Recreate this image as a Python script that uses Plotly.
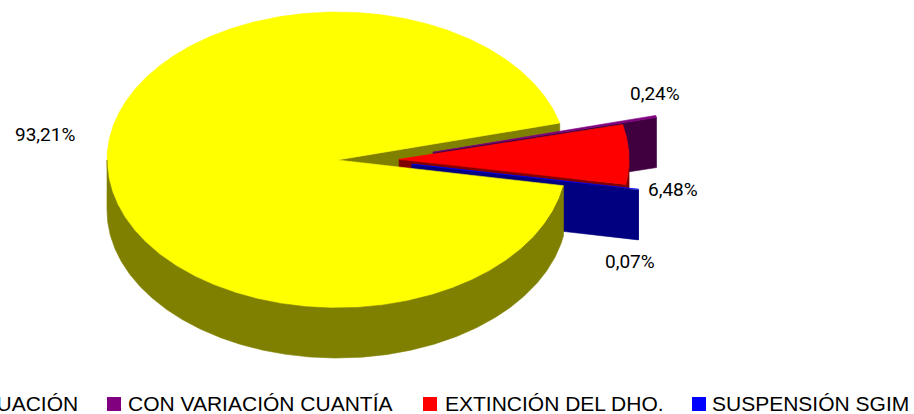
import numpy as np
import plotly.graph_objects as go

# ---------------- data ----------------
categories = ["CONTINUACIÓN", "CON VARIACIÓN CUANTÍA", "EXTINCIÓN DEL DHO.", "SUSPENSIÓN SGIM"]
values = [93.21, 0.24, 6.48, 0.07]

# ---------------- style ----------------
top_colors = ["#FFFF00", "#800080", "#FF0000", "#0000FF"]
side_colors = ["#808000", "#400040", "#800000", "#000080"]
explode = [0.0, 0.43, 0.27, 0.33]
label_offsets = [(-62, -31), (-1, -22.5), (44, 35.6), (-8, 72)]

W, H = 914, 414
CX, CY, RX, RY, DEPTH = 337, 160, 230, 148, 50
START = -10.0          # angle (deg, counter-clockwise from east) where first slice starts; slices go clockwise
EXPLODE_VY = 0.5

total = sum(values)
angles = []
a = START
for v in values:
    span = v / total * 360.0
    angles.append((a, a - span))
    a -= span


def rim(theta, dx=0.0, dy=0.0, down=0.0):
    t = np.radians(theta)
    return CX + RX * np.cos(t) + dx, CY - RY * np.sin(t) + dy + down


def arc(a0, a1, dx, dy, down=0.0):
    n = max(4, int(abs(a0 - a1) * 2) + 2)
    th = np.linspace(a0, a1, n)
    x, y = rim(th, dx, dy, down)
    return list(x), list(y)


def offsets(i):
    a0, a1 = angles[i]
    mid = np.radians((a0 + a1) / 2)
    e = explode[i]
    return e * RX * np.cos(mid), -e * RY * EXPLODE_VY * np.sin(mid)


def top_poly(i):
    a0, a1 = angles[i]
    dx, dy = offsets(i)
    xs, ys = arc(a0, a1, dx, dy)
    return [CX + dx] + xs + [CX + dx], [CY + dy] + ys + [CY + dy]


def face_poly(i, theta):
    dx, dy = offsets(i)
    rx_, ry_ = rim(theta, dx, dy)
    xs = [CX + dx, rx_, rx_, CX + dx, CX + dx]
    ys = [CY + dy, ry_, ry_ + DEPTH, CY + dy + DEPTH, CY + dy]
    return xs, ys


def visible_faces(i):
    a0, a1 = angles[i]
    out = []
    if np.cos(np.radians(a0)) < 0:
        out.append(face_poly(i, a0))
    if np.cos(np.radians(a1)) > 0:
        out.append(face_poly(i, a1))
    return out


def wall_polys(i):
    a0, a1 = angles[i]      # a0 > a1
    dx, dy = offsets(i)
    polys = []
    for k in range(-3, 2):
        lo, hi = -180 + 360 * k, 0 + 360 * k
        s, e = min(a0, hi), max(a1, lo)
        if s > e:
            xt, yt = arc(s, e, dx, dy)
            xb, yb = arc(e, s, dx, dy, DEPTH)
            polys.append((xt + xb + [xt[0]], yt + yb + [yt[0]]))
    return polys


fig = go.Figure()


def add(poly, color):
    xs, ys = poly
    fig.add_trace(go.Scatter(x=xs, y=ys, mode="lines", fill="toself", fillcolor=color,
                             line=dict(color=color, width=0.6), hoverinfo="skip",
                             showlegend=False))


# back-most: cut face of the big slice
for p in visible_faces(0):
    add(p, side_colors[0])
# exploded small slices
for i in range(1, len(values)):
    for p in wall_polys(i):
        add(p, side_colors[i])
    for p in visible_faces(i):
        add(p, side_colors[i])
    add(top_poly(i), top_colors[i])
# front: the big slice top and wall
add(top_poly(0), top_colors[0])
for p in wall_polys(0):
    add(p, side_colors[0])

# data labels
for i, v in enumerate(values):
    a0, a1 = angles[i]
    dx, dy = offsets(i)
    lx, ly = rim((a0 + a1) / 2, dx, dy)
    fig.add_annotation(x=lx + label_offsets[i][0], y=ly + label_offsets[i][1],
                       text=f"{v:.2f}".replace(".", ",") + "%", showarrow=False,
                       xanchor="center", yanchor="middle",
                       font=dict(family="Roboto", size=19, color="#000000"))

# legend (clipped by the page edges, as in the original)
legend_square_x = [-60, 107, 423, 692]
legend_text_x = [80, 126, 443, 710]
legend_anchor = ["right", "left", "left", "left"]
LEG_Y = 403
for i, name in enumerate(categories):
    fig.add_shape(type="rect", xref="x", yref="y",
                  x0=legend_square_x[i], x1=legend_square_x[i] + 14,
                  y0=LEG_Y - 6, y1=LEG_Y + 8,
                  fillcolor=top_colors[i], line=dict(width=0))
    fig.add_annotation(x=legend_text_x[i], y=LEG_Y, text=name, showarrow=False,
                       xanchor=legend_anchor[i], yanchor="middle",
                       font=dict(family="Liberation Sans, Arial", size=21, color="#000000"))

fig.update_layout(
    width=W, height=H, margin=dict(l=0, r=0, t=0, b=0),
    paper_bgcolor="white", plot_bgcolor="white",
    xaxis=dict(range=[0, W], visible=False, fixedrange=True),
    yaxis=dict(range=[H, 0], visible=False, fixedrange=True),
    showlegend=False,
)

fig.write_html("out.html", config={"displayModeBar": False},
               post_script="document.body.style.margin='0';document.body.style.overflow='hidden';")
